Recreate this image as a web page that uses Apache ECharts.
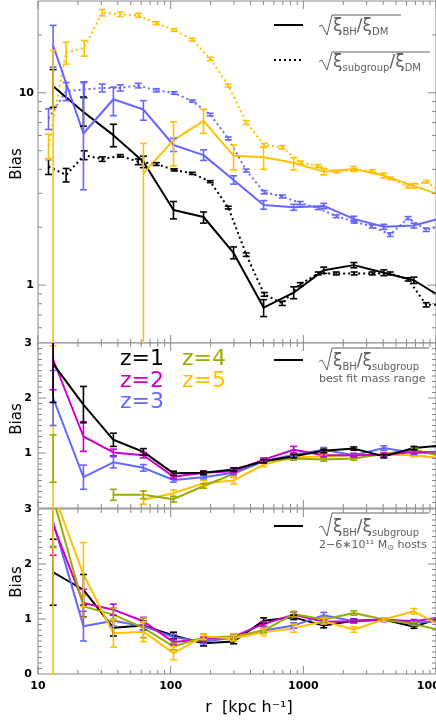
<!DOCTYPE html>
<html>
<head>
<meta charset="utf-8">
<script src="https://cdn.jsdelivr.net/npm/echarts@6/dist/echarts.min.js"></script>
<style>
  html, body { margin: 0; padding: 0; background: #fff; }
  #chart { width: 436px; height: 726px; }
</style>
</head>
<body>
<div id="chart"></div>
<script>
// bin centres, kpc/h
var rBH = [13.0, 22.0, 37.0, 62.3, 105, 177, 298, 502, 846, 1425, 2401, 4045, 6813, 11477];
var rSub = [12.0, 16.3, 22.3, 30.5, 41.7, 57.0, 77.9, 106.5, 145.5, 198.8, 271.8, 371.4, 507.6,
  693.6, 947.8, 1295, 1770, 2419, 3306, 4519, 6174, 8439, 11530];

// top panel, sqrt(xi_BH / xi_DM) (solid) with error bar ends
var topBH1 = [10.8, 7.94, 6.02, 4.38, 2.46, 2.26, 1.47, 0.764, 0.913, 1.196, 1.27, 1.16, 1.06, 0.85];
var topBH1Lo = [8.4, 6.7, 5.24, 4.08, 2.21, 2.1, 1.37, 0.686, 0.85, 1.15, 1.23, 1.12, 1.02, 0.82];
var topBH1Hi = [13.2, 9.5, 6.86, 4.68, 2.72, 2.4, 1.58, 0.84, 0.98, 1.24, 1.31, 1.2, 1.1, 0.88];
var topBH3 = [17.6, 6.14, 9.25, 8.18, 5.35, 4.74, 3.52, 2.61, 2.54, 2.58, 2.21, 2.01, 2.04, 2.25];
var topBH3Lo = [13.6, 3.13, 7.6, 7.2, 4.95, 4.45, 3.35, 2.48, 2.45, 2.5, 2.14, 1.95, 1.98, 2.18];
var topBH3Hi = [22.4, 11.3, 10.7, 9.1, 5.8, 5.05, 3.7, 2.75, 2.63, 2.66, 2.28, 2.07, 2.1, 2.32];
var topBH5 = [null, null, null, 3.81, 5.67, 7.14, 4.71, 4.62, 4.33, 3.89, 4.02, 3.71, 3.28, 2.9];
var topBH5Lo = [0.01, null, null, 0.01, 4.16, 6.15, 3.97, 4.0, 3.97, 3.74, 3.9, 3.6, 3.19, 2.82];
var topBH5Hi = [16.6, null, null, 5.45, 7.06, 8.2, 5.35, 5.2, 4.6, 4.03, 4.14, 3.82, 3.37, 2.98];

// top panel, sqrt(xi_subgroup / xi_DM) (dotted), +- errors
var topSub1 = [4.13, 3.74, 4.74, 4.52, 4.7, 4.38, 4.26, 3.97, 3.81, 3.45, 2.53, 1.44, 0.895, 0.804,
  1.01, 1.15, 1.15, 1.15, 1.15, 1.15, 1.07, 0.79, 0.79];
var topSub1Err = [0.37, 0.3, 0.25, 0.12, 0.07, 0.15, 0.07, 0.05, 0.05, 0.04, 0.04, 0.03, 0.02, 0.02,
  0.02, 0.02, 0.02, 0.02, 0.02, 0.02, 0.02, 0.02, 0.02];
var topSub3 = [7.35, 10.2, 10.4, 10.6, 10.6, 10.9, 10.3, 9.97, 9.06, 7.7, 5.79, 3.94, 3.04, 2.89,
  2.67, 2.51, 2.28, 2.14, 2.02, 1.83, 2.23, 1.94, 2.05];
var topSub3Err = [0.9, 1.1, 1.0, 0.5, 0.4, 0.3, 0.2, 0.15, 0.12, 0.12, 0.1, 0.07, 0.06, 0.05,
  0.05, 0.04, 0.04, 0.04, 0.04, 0.04, 0.04, 0.04, 0.04];
var topSub5 = [5.3, 16.2, 17.1, 26.1, 25.6, 25.3, 23.0, 21.2, 18.9, 15.0, 10.9, 7.0, 5.35, 5.2,
  4.33, 4.16, 3.89, 3.97, 3.92, 3.59, 3.25, 3.45, 3.0];
var topSub5Err = [0.8, 2.1, 1.6, 1.0, 0.7, 0.6, 0.4, 0.35, 0.3, 0.3, 0.2, 0.15, 0.1, 0.1,
  0.08, 0.07, 0.06, 0.06, 0.06, 0.05, 0.05, 0.05, 0.05];

// middle panel, sqrt(xi_BH / xi_subgroup), best fit mass range, z = 1..5
var midZ1 = [2.62, 1.88, 1.24, 1.02, 0.63, 0.64, 0.70, 0.85, 0.94, 1.04, 1.08, 0.94, 1.09, 1.14];
var midZ1Err = [0.7, 0.33, 0.12, 0.06, 0.04, 0.03, 0.03, 0.03, 0.03, 0.03, 0.03, 0.03, 0.03, 0.03];
var midZ2 = [2.70, 1.30, 1.01, 0.96, 0.57, 0.64, 0.67, 0.88, 1.06, 0.96, 0.96, 0.97, 1.02, 1.0];
var midZ2Err = [0.55, 0.27, 0.06, 0.05, 0.04, 0.03, 0.03, 0.03, 0.06, 0.03, 0.03, 0.03, 0.03, 0.03];
var midZ3 = [2.0, 0.56, 0.83, 0.73, 0.51, 0.56, 0.64, 0.85, 0.97, 1.06, 0.96, 1.09, 1.0, 1.03];
var midZ3Err = [0.5, 0.22, 0.1, 0.06, 0.04, 0.03, 0.03, 0.03, 0.03, 0.04, 0.03, 0.04, 0.03, 0.03];
var midZ4 = [0.9, null, 0.24, 0.24, 0.16, 0.40, 0.62, 0.85, 0.90, 0.88, 0.90, 0.98, 1.06, 0.93];
var midZ4Err = [0.43, null, 0.1, 0.07, 0.05, 0.04, 0.03, 0.03, 0.03, 0.03, 0.03, 0.03, 0.03, 0.03];
var midZ5 = [1.2, null, null, 0.15, 0.27, 0.45, 0.50, 0.79, 0.92, 0.94, 0.96, 0.97, 0.96, 0.90];
var midZ5Err = [1.75, null, null, 0.08, 0.06, 0.05, 0.06, 0.04, 0.03, 0.03, 0.03, 0.03, 0.03, 0.03];

// bottom panel, sqrt(xi_BH / xi_subgroup), 2-6e11 Msun hosts, z = 1..5
var botZ1 = [1.85, 1.53, 0.84, 0.88, 0.70, 0.56, 0.59, 0.97, 1.03, 0.88, 0.97, 0.99, 0.86, 1.04];
var botZ1Err = [0.6, 0.28, 0.15, 0.08, 0.06, 0.05, 0.04, 0.05, 0.04, 0.04, 0.03, 0.03, 0.03, 0.03];
var botZ2 = [2.71, 1.29, 1.17, 0.96, 0.58, 0.63, 0.68, 0.91, 1.08, 0.95, 0.96, 0.99, 0.96, 1.04];
var botZ2Err = [0.55, 0.25, 0.1, 0.07, 0.05, 0.04, 0.04, 0.04, 0.05, 0.04, 0.03, 0.03, 0.03, 0.03];
var botZ3 = [2.77, 0.87, 0.97, 0.87, 0.67, 0.59, 0.66, 0.79, 0.88, 1.07, 0.96, 0.98, 0.93, 0.97];
var botZ3Err = [0.45, 0.27, 0.1, 0.07, 0.05, 0.04, 0.03, 0.04, 0.05, 0.05, 0.03, 0.03, 0.03, 0.03];
var botZ4 = [3.2, 1.23, 1.08, 0.84, 0.50, 0.67, 0.68, 0.79, 1.09, 0.99, 1.11, 0.99, 0.91, 0.78];
var botZ4Err = [0.9, 0.2, 0.12, 0.18, 0.06, 0.05, 0.04, 0.04, 0.05, 0.04, 0.04, 0.03, 0.03, 0.03];
var botZ5 = [3.3, 1.81, 0.74, 0.77, 0.38, 0.68, 0.65, 0.76, 0.83, 0.96, 0.81, 0.99, 1.14, 0.85];
var botZ5Err = [3.3, 0.58, 0.25, 0.18, 0.12, 0.05, 0.05, 0.06, 0.07, 0.05, 0.05, 0.03, 0.05, 0.04];

// ticks
var xMajor = [10, 100, 1000, 10000];
var xMinor = [20, 30, 40, 50, 60, 70, 80, 90, 200, 300, 400, 500, 600, 700, 800, 900,
  2000, 3000, 4000, 5000, 6000, 7000, 8000, 9000];
var topMajor = [1, 10];
var topMinor = [0.6, 0.7, 0.8, 0.9, 2, 3, 4, 5, 6, 7, 8, 9, 20];
var linMajor = [1, 2];
var linMinor = [0.1, 0.2, 0.3, 0.4, 0.5, 0.6, 0.7, 0.8, 0.9, 1.1, 1.2, 1.3, 1.4, 1.5, 1.6, 1.7, 1.8, 1.9,
  2.1, 2.2, 2.3, 2.4, 2.5, 2.6, 2.7, 2.8, 2.9];

var cBlack = '#000000', cMag = '#cc00cc', cBlue = '#6666ff', cOlive = '#99aa00', cGold = '#ffc000';
var axisGrey = '#888888', textGrey = '#606060';
var font = 'DejaVu Sans';

function pts (xs, ys) {
  return xs.map(function (x, i) { return [x, ys[i] == null ? '-' : ys[i]] })
}

function line (xs, ys, color, g, dotted) {
  return {
    type: 'line', xAxisIndex: g, yAxisIndex: g, data: pts(xs, ys), symbol: 'none',
    clip: true, silent: true, z: 4,
    lineStyle: { color: color, width: 2, type: dotted ? [2, 3] : 'solid' }
  }
}

function bars (xs, lo, hi, color, g) {
  var data = []
  for (var i = 0; i < xs.length; i++) {
    if (lo[i] != null) data.push([xs[i], lo[i], hi[i]])
  }
  return {
    type: 'custom', xAxisIndex: g, yAxisIndex: g, data: data, silent: true, clip: true, z: 5,
    encode: { x: 0, y: [1, 2] },
    renderItem: function (params, api) {
      var cs = params.coordSys
      var a = api.coord([api.value(0), api.value(1)])
      var b = api.coord([api.value(0), api.value(2)])
      var top = cs.y, bot = cs.y + cs.height
      var x = a[0]
      var y1 = isFinite(a[1]) ? a[1] : bot + 10
      var y2 = b[1]
      var kids = [{ type: 'line', shape: { x1: x, y1: Math.min(y1, bot), x2: x, y2: Math.max(y2, top) },
        style: { stroke: color, lineWidth: 1.6 } }]
      if (y1 <= bot) kids.push({ type: 'line', shape: { x1: x - 3.5, y1: y1, x2: x + 3.5, y2: y1 }, style: { stroke: color, lineWidth: 1.6 } })
      if (y2 >= top) kids.push({ type: 'line', shape: { x1: x - 3.5, y1: y2, x2: x + 3.5, y2: y2 }, style: { stroke: color, lineWidth: 1.6 } })
      return { type: 'group', children: kids }
    }
  }
}

function pm (vals, err, s) {
  return vals.map(function (v, i) { return v == null || err[i] == null ? null : v + s * err[i] })
}

function withBars (xs, vals, err, color, g, dotted) {
  return [line(xs, vals, color, g, dotted), bars(xs, pm(vals, err, -1), pm(vals, err, 1), color, g)]
}

// inward ticks on both sides of a panel
function xTicks (vals, len, g) {
  return {
    type: 'custom', xAxisIndex: g, yAxisIndex: g, silent: true, z: 10,
    data: vals.map(function (v) { return [v, 1] }),
    renderItem: function (params, api) {
      var cs = params.coordSys
      var x = api.coord([api.value(0), api.value(1)])[0]
      var st = { stroke: axisGrey, lineWidth: 1 }
      return { type: 'group', children: [
        { type: 'line', shape: { x1: x, y1: cs.y + cs.height, x2: x, y2: cs.y + cs.height - len }, style: st },
        { type: 'line', shape: { x1: x, y1: cs.y, x2: x, y2: cs.y + len }, style: st }
      ] }
    }
  }
}

function yTicks (vals, len, g) {
  return {
    type: 'custom', xAxisIndex: g, yAxisIndex: g, silent: true, z: 10,
    data: vals.map(function (v) { return [100, v] }),
    renderItem: function (params, api) {
      var cs = params.coordSys
      var y = api.coord([api.value(0), api.value(1)])[1]
      var st = { stroke: axisGrey, lineWidth: 1 }
      return { type: 'group', children: [
        { type: 'line', shape: { x1: cs.x, y1: y, x2: cs.x + len, y2: y }, style: st },
        { type: 'line', shape: { x1: cs.x + cs.width, y1: y, x2: cs.x + cs.width - len, y2: y }, style: st }
      ] }
    }
  }
}

function radical (x0, baseY, topY, x1) {
  return {
    type: 'polyline', silent: true,
    shape: { points: [[x0, baseY + 1.5], [x0 + 3, baseY], [x0 + 8, baseY + 10], [x0 + 13, topY], [x1, topY]] },
    style: { stroke: textGrey, lineWidth: 1, fill: null }
  }
}

var rich = {
  x: { fontSize: 17, fontFamily: font, fill: textGrey, color: textGrey, lineHeight: 20 },
  s: { fontSize: 10, fontFamily: font, fill: textGrey, color: textGrey, lineHeight: 8, verticalAlign: 'bottom' },
  n: { fontSize: 11, fontFamily: font, fill: textGrey, color: textGrey, lineHeight: 14 },
  o: { fontSize: 8, fontFamily: font, fill: textGrey, color: textGrey, lineHeight: 8, verticalAlign: 'bottom' }
}

function formula (y, text) {
  return { type: 'text', silent: true, style: { x: 333, y: y, text: text, rich: rich, verticalAlign: 'middle', textVerticalAlign: 'middle' } }
}

function sample (y, dotted) {
  return { type: 'line', silent: true, shape: { x1: 274, y1: y, x2: 303, y2: y },
    style: { stroke: '#000', lineWidth: 2, lineDash: dotted ? [2, 3] : null } }
}

function zLabel (x, y, txt, color) {
  return { type: 'text', silent: true,
    style: { x: x, y: y, text: txt, fill: color, font: '22px "DejaVu Sans"', verticalAlign: 'middle', textVerticalAlign: 'middle' } }
}

function biasLabel (y) {
  return { type: 'text', silent: true, x: 17, y: y, rotation: Math.PI / 2,
    style: { x: 0, y: 0, text: 'Bias', fill: '#000', font: '15px "DejaVu Sans"', align: 'center', textAlign: 'center', verticalAlign: 'middle', textVerticalAlign: 'middle' } }
}

var grids = [
  { left: 38, top: 1, width: 398, height: 342 },
  { left: 38, top: 343, width: 398, height: 165 },
  { left: 38, top: 509, width: 398, height: 165 }
].map(function (g) {
  return Object.assign(g, { show: true, borderColor: axisGrey, borderWidth: 1, backgroundColor: '#fff', outerBoundsMode: 'none' })
})

var xAxes = [0, 1, 2].map(function (g) {
  return {
    type: 'log', logBase: 10, gridIndex: g, min: 10, max: 10000,
    axisLine: { show: false }, axisTick: { show: false }, splitLine: { show: false },
    axisLabel: {
      show: g === 2, margin: 7, color: '#000', fontFamily: font, fontSize: 11, fontWeight: 'bold',
      formatter: function (v) { return String(Math.round(v)) }
    }
  }
})

var yCommon = { axisLine: { show: false }, axisTick: { show: false }, splitLine: { show: false } }

var yAxes = [
  Object.assign({ type: 'log', logBase: 10, gridIndex: 0, min: 0.5, max: 30,
    axisLabel: { margin: 4, color: '#000', fontFamily: font, fontSize: 11, fontWeight: 'bold',
      formatter: function (v) { return Math.abs(v - 1) < 1e-6 ? '1' : (Math.abs(v - 10) < 1e-6 ? '10' : '') } } }, yCommon),
  Object.assign({ type: 'value', gridIndex: 1, min: 0, max: 3, interval: 1,
    axisLabel: { margin: 6, color: '#000', fontFamily: font, fontSize: 11, fontWeight: 'bold',
      formatter: function (v) { return v === 0 ? '' : String(v) } } }, yCommon),
  Object.assign({ type: 'value', gridIndex: 2, min: 0, max: 3, interval: 1,
    axisLabel: { margin: 6, color: '#000', fontFamily: font, fontSize: 11, fontWeight: 'bold' } }, yCommon)
]

var series = [].concat(
  withBars(rSub, topSub1, topSub1Err, cBlack, 0, true),
  withBars(rSub, topSub3, topSub3Err, cBlue, 0, true),
  withBars(rSub, topSub5, topSub5Err, cGold, 0, true),
  [line(rBH, topBH1, cBlack, 0), bars(rBH, topBH1Lo, topBH1Hi, cBlack, 0)],
  [line(rBH, topBH3, cBlue, 0), bars(rBH, topBH3Lo, topBH3Hi, cBlue, 0)],
  [line(rBH, topBH5, cGold, 0), bars(rBH, topBH5Lo, topBH5Hi, cGold, 0)],
  withBars(rBH, midZ5, midZ5Err, cGold, 1),
  withBars(rBH, midZ4, midZ4Err, cOlive, 1),
  withBars(rBH, midZ3, midZ3Err, cBlue, 1),
  withBars(rBH, midZ2, midZ2Err, cMag, 1),
  withBars(rBH, midZ1, midZ1Err, cBlack, 1),
  withBars(rBH, botZ1, botZ1Err, cBlack, 2),
  withBars(rBH, botZ3, botZ3Err, cBlue, 2),
  withBars(rBH, botZ2, botZ2Err, cMag, 2),
  withBars(rBH, botZ4, botZ4Err, cOlive, 2),
  withBars(rBH, botZ5, botZ5Err, cGold, 2),
  [0, 1, 2].map(function (g) { return xTicks(xMajor, 8, g) }),
  [0, 1, 2].map(function (g) { return xTicks(xMinor, 4, g) }),
  [yTicks(topMajor, 8, 0), yTicks(topMinor, 4, 0)],
  [1, 2].map(function (g) { return yTicks(linMajor, 8, g) }),
  [1, 2].map(function (g) { return yTicks(linMinor, 4, g) })
)

var graphic = [
  sample(25), radical(319, 25, 15, 401), formula(27, '{x|ξ}{s|BH}{x|/ξ}{s|DM}'),
  sample(60, true), radical(319, 60, 52, 430), formula(63, '{x|ξ}{s|subgroup}{x|/ξ}{s|DM}'),
  sample(360), radical(319, 360, 348, 429), formula(362, '{x|ξ}{s|BH}{x|/ξ}{s|subgroup}'),
  { type: 'text', silent: true, style: { x: 319, y: 379, text: 'best fit mass range', fill: textGrey, font: '11px "DejaVu Sans"', verticalAlign: 'middle', textVerticalAlign: 'middle' } },
  sample(526), radical(319, 526, 513, 429), formula(528, '{x|ξ}{s|BH}{x|/ξ}{s|subgroup}'),
  { type: 'text', silent: true, style: { x: 319, y: 545, text: '{n|2−6∗10¹¹ M}{o|⊙}{n| hosts}', rich: rich, verticalAlign: 'middle', textVerticalAlign: 'middle' } },
  zLabel(120, 359, 'z=1', cBlack), zLabel(120, 381, 'z=2', cMag), zLabel(120, 402, 'z=3', cBlue),
  zLabel(182, 359, 'z=4', cOlive), zLabel(182, 381, 'z=5', cGold),
  biasLabel(164), biasLabel(419), biasLabel(582),
  { type: 'text', silent: true, style: { x: 249, y: 708, text: 'r  [kpc h⁻¹]', fill: '#000', font: '16px "DejaVu Sans"', align: 'center', textAlign: 'center', verticalAlign: 'middle', textVerticalAlign: 'middle' } }
]

var chart = echarts.init(document.getElementById('chart'))
chart.setOption({
  animation: false,
  backgroundColor: '#fff',
  grid: grids,
  xAxis: xAxes,
  yAxis: yAxes,
  series: series,
  graphic: graphic
})
</script>
</body>
</html>
